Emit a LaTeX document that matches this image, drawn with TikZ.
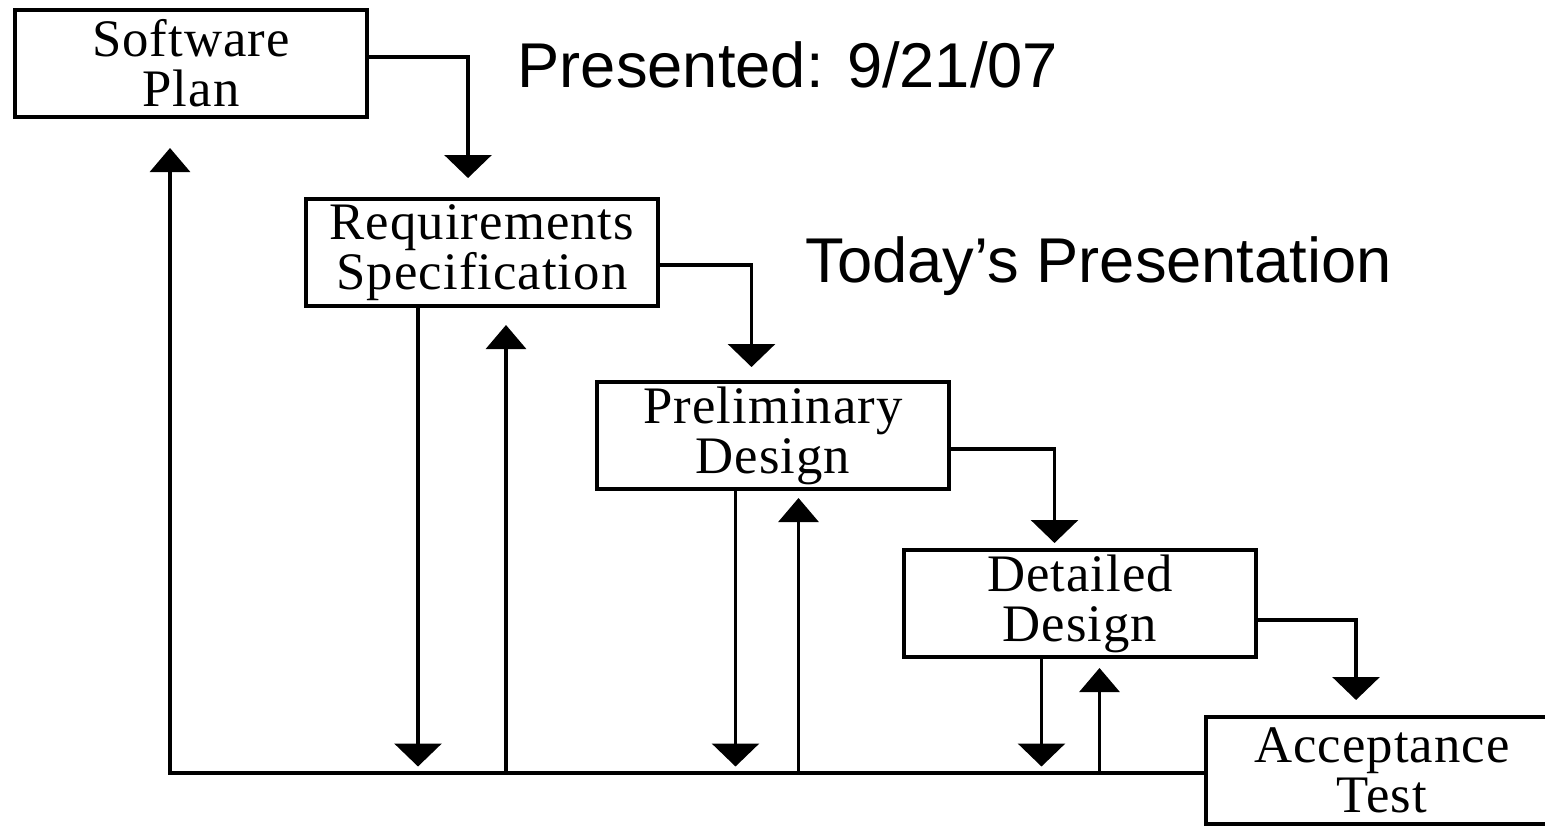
\documentclass[tikz,border=0pt]{standalone}
\usepackage{fontspec}
\setmainfont{Liberation Serif}
\newfontfamily\boxfont[LetterSpace=2]{Liberation Serif}
\newfontfamily\notefont{Liberation Sans}
\usetikzlibrary{positioning, arrows.meta}

\begin{document}
\begin{tikzpicture}[
        stage/.style={draw, line width=0.9pt, minimum width=3.52cm, minimum height=1.07cm,
                      inner sep=0pt, outer sep=0pt, align=center,
                      font=\boxfont\fontsize{15}{14.2}\selectfont},
        note/.style={inner sep=0pt, font=\notefont\fontsize{18}{21}\selectfont},
        drop/.style={-{Triangle[width=0.47cm, length=0.23cm]}, line width=0.9pt},
        rise/.style={-{Triangle[width=0.40cm, length=0.24cm]}, line width=0.9pt}
    ]
    \useasboundingbox (0,0) rectangle (15.45,8.25);

    % Stages ----------------------------------------------
    \node[stage, anchor=north west] (plan) at (0.15,8.15) {Software\\Plan};
    \node[stage, below right=0.82cm and -0.61cm of plan]   (req)    {Requirements\\Specification};
    \node[stage, below right=0.76cm and -0.61cm of req]    (prelim) {Preliminary\\Design};
    \node[stage, below right=0.61cm and -0.45cm of prelim] (detail) {Detailed\\Design};
    \node[stage, below right=0.60cm and -0.50cm of detail] (accept) {Acceptance\\Test};

    % Notes
    \node[note, anchor=base west] (date)  at (5.17,7.37) {Presented: 9/21/07};
    \node[note, anchor=base west] (today) at (8.05,5.43) {Today’s Presentation};

    % waterfall flow
    \draw[drop] ([yshift=.065cm]plan.east)   -| ([xshift=-.14cm, yshift=.21cm]req.north);
    \draw[drop] ([yshift=-.125cm]req.east)   -| ([xshift=-.215cm, yshift=.15cm]prelim.north);
    \draw[drop] ([yshift=-.135cm]prelim.east) -| ([xshift=-.255cm, yshift=.07cm]detail.north);
    \draw[drop] ([yshift=-.165cm]detail.east) -| ([xshift=-.26cm, yshift=.17cm]accept.north);

    % feedback line
    \coordinate[below=0.025cm of accept.west] (base);
    \coordinate[above=0.065cm of base] (foot);
    \draw[rise] (base) -| ([xshift=-.21cm, yshift=-.31cm]plan.south);

    \draw[drop] ([xshift=-.64cm]req.south) -- ([xshift=-.64cm]req.south |- foot);
    \draw[rise] ([xshift=.24cm]req.south |- base) -- ([xshift=.24cm, yshift=-.19cm]req.south);

    \draw[drop] ([xshift=-.375cm]prelim.south) -- ([xshift=-.375cm]prelim.south |- foot);
    \draw[rise] ([xshift=.255cm]prelim.south |- base) -- ([xshift=.255cm, yshift=-.09cm]prelim.south);

    \draw[drop] ([xshift=-.385cm]detail.south) -- ([xshift=-.385cm]detail.south |- foot);
    \draw[rise] ([xshift=.195cm]detail.south |- base) -- ([xshift=.195cm, yshift=-.11cm]detail.south);
\end{tikzpicture}
\end{document}
